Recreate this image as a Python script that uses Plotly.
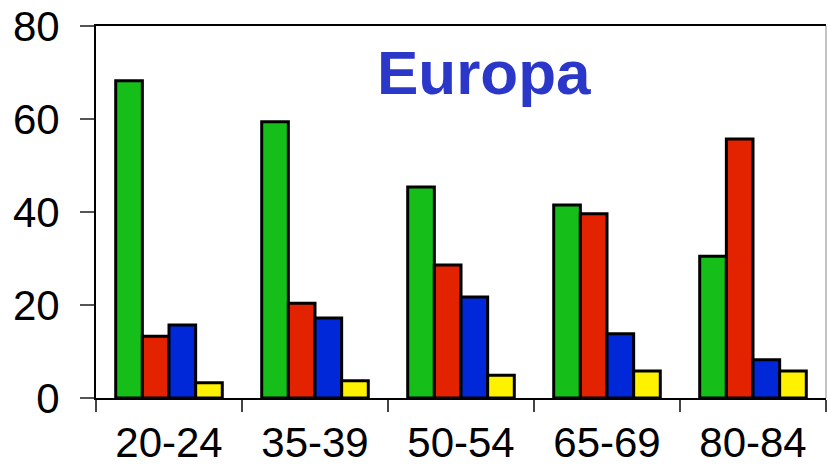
import plotly.graph_objects as go

categories = ["20-24", "35-39", "50-54", "65-69", "80-84"]
green_vals = [68.2, 59.4, 45.4, 41.5, 30.5]
red_vals = [13.3, 20.4, 28.6, 39.6, 55.7]
blue_vals = [15.7, 17.2, 21.7, 13.8, 8.2]
yellow_vals = [3.3, 3.7, 4.9, 5.8, 5.8]
y_ticks = [0, 20, 40, 60, 80]
title_text = "Europa"

series = [
    (green_vals, "#16be1a"),
    (red_vals, "#e32200"),
    (blue_vals, "#0028d8"),
    (yellow_vals, "#fff200"),
]

fig = go.Figure()
for vals, col in series:
    fig.add_trace(go.Bar(
        x=categories, y=vals,
        marker=dict(color=col, line=dict(color="black", width=3)),
        showlegend=False,
    ))

font_family = "Liberation Sans, Arial, sans-serif"
fig.update_layout(
    width=827, height=469,
    margin=dict(l=96, r=1, t=26, b=71, autoexpand=False),
    paper_bgcolor="white", plot_bgcolor="white",
    barmode="group", bargap=0.27, bargroupgap=0,
    font=dict(family=font_family, color="black"),
    xaxis=dict(
        showline=True, linecolor="black", linewidth=2, mirror=True,
        ticks="outside", tickson="boundaries", ticklen=12, tickcolor="#444", tickwidth=1.5,
        tickfont=dict(size=42, family=font_family, color="black"),
        ticklabelstandoff=7, automargin=False,
        showgrid=False, zeroline=False,
    ),
    yaxis=dict(
        range=[0, 80], tickvals=y_ticks,
        showline=True, linecolor="black", linewidth=2,
        ticks="outside", ticklen=14, tickcolor="#555", tickwidth=1.5,
        tickfont=dict(size=42, family=font_family, color="black"),
        ticklabelstandoff=12, automargin=False,
        showgrid=False, zeroline=False,
    ),
    shapes=[dict(type="line", xref="paper", yref="paper", x0=1, x1=1, y0=0, y1=1,
                 line=dict(color="#888", width=1))],
    annotations=[dict(
        text="<b>" + title_text + "</b>", xref="paper", yref="paper",
        x=0.532, y=0.875, xanchor="center", yanchor="middle", showarrow=False,
        font=dict(size=62, color="#2b37c9", family=font_family),
    )],
)

fig.write_html("out.html", config={"displayModeBar": False},
               post_script="document.body.style.margin='0';document.body.style.overflow='hidden';")
